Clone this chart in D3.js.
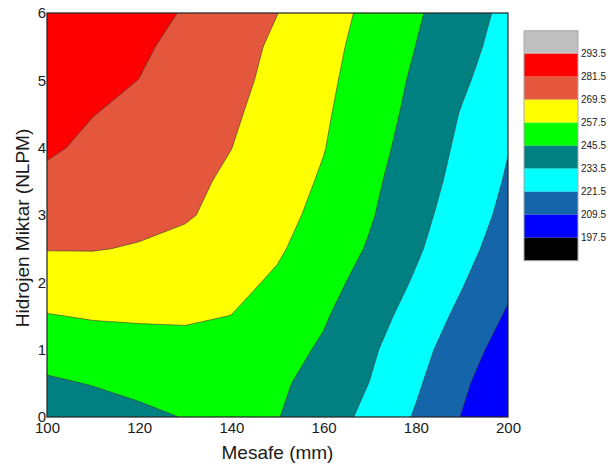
<!DOCTYPE html>
<html>
<head>
<meta charset="utf-8">
<script src="https://cdn.jsdelivr.net/npm/d3@7"></script>
<style>
  body { margin: 0; background: #fff; }
  text { font-family: Arial, "Liberation Sans", sans-serif; fill: #1a1a1a; }
</style>
</head>
<body>
<svg id="chart" width="611" height="468"></svg>
<script>
// grid columns (Mesafe, mm) and rows (Hidrojen Miktar, NLPM)
const mesafe = [100, 110, 120, 130, 140, 150, 160, 170, 180, 190, 200];
const hidrojen = [0, 0.5, 1, 1.5, 2, 2.5, 3, 3.5, 4, 4.5, 5, 5.5, 6];

// values, one row per hidrojen level (bottom to top)
const row00 = [238.3, 240.1, 243.1, 245.9, 247.3, 245.9, 238.8, 230.7, 220.4, 209.0, 198.7];
const row05 = [243.9, 246.0, 248.3, 249.9, 251.0, 247.3, 241.4, 233.3, 223.2, 211.7, 200.0];
const row10 = [250.4, 252.2, 253.4, 254.4, 254.3, 249.5, 244.1, 235.4, 225.7, 215.0, 204.0];
const row15 = [257.0, 258.3, 258.7, 258.7, 257.4, 252.0, 246.6, 238.3, 228.9, 218.7, 208.1];
const row20 = [263.5, 264.5, 264.0, 262.8, 260.1, 256.1, 249.3, 241.5, 232.2, 222.3, 211.8];
const row25 = [269.9, 269.9, 268.9, 266.1, 262.1, 258.7, 252.5, 244.4, 235.1, 225.5, 215.5];
const row30 = [274.4, 272.9, 271.8, 270.7, 265.7, 260.7, 254.6, 246.6, 237.2, 227.7, 218.4];
const row35 = [279.0, 276.1, 273.9, 271.9, 267.8, 262.3, 256.3, 248.1, 239.0, 229.7, 220.3];
const row40 = [283.1, 279.3, 276.2, 273.0, 269.6, 263.7, 257.9, 249.7, 240.8, 231.2, 221.9];
const row45 = [285.1, 281.7, 279.1, 274.4, 270.9, 265.4, 258.9, 251.1, 242.4, 232.8, 223.7];
const row50 = [286.9, 283.9, 281.4, 276.8, 272.3, 266.7, 260.0, 252.2, 243.8, 235.2, 226.7];
const row55 = [288.5, 285.7, 282.9, 278.9, 273.5, 267.7, 261.0, 253.5, 245.4, 237.1, 229.1];
const row60 = [289.9, 287.5, 284.4, 280.9, 275.3, 269.6, 262.3, 254.9, 246.9, 238.8, 230.6];

const levels = [197.5, 209.5, 221.5, 233.5, 245.5, 257.5, 269.5, 281.5, 293.5];
// colour below the first level, then one per level
const colors = ["#000000", "#0000ff", "#1565aa", "#00ffff", "#008080",
                "#00ff00", "#ffff00", "#e4573c", "#ff0000", "#c0c0c0"];

const xTicks = [100, 120, 140, 160, 180, 200];
const yTicks = [0, 1, 2, 3, 4, 5, 6];

const svg = d3.select("#chart");
const plotL = 47, plotR = 508, plotT = 13, plotB = 417;

const x = d3.scaleLinear().domain([100, 200]).range([plotL, plotR]);
const y = d3.scaleLinear().domain([0, 6]).range([plotB, plotT]);

// contour grid coords put sample i at i + 0.5
const nx = mesafe.length, ny = hidrojen.length;
const gx = d3.scaleLinear().domain([0.5, nx - 0.5]).range([mesafe[0], mesafe[nx - 1]]);
const gy = d3.scaleLinear().domain([0.5, ny - 0.5]).range([hidrojen[0], hidrojen[ny - 1]]);

const grid = [row00, row05, row10, row15, row20, row25, row30, row35, row40, row45, row50, row55, row60].flat();

const contours = d3.contours()
  .size([nx, ny])
  .thresholds(levels)(grid);

const path = d3.geoPath(d3.geoTransform({
  point: function(px, py) { this.stream.point(x(gx(px)), y(gy(py))); }
}));

svg.append("clipPath").attr("id", "clip")
  .append("rect")
  .attr("x", plotL).attr("y", plotT)
  .attr("width", plotR - plotL).attr("height", plotB - plotT);

const plot = svg.append("g").attr("clip-path", "url(#clip)");

plot.append("rect")
  .attr("x", plotL).attr("y", plotT)
  .attr("width", plotR - plotL).attr("height", plotB - plotT)
  .attr("fill", colors[0]);

plot.selectAll("path.band")
  .data(contours)
  .enter()
  .append("path")
  .attr("class", "band")
  .attr("d", path)
  .attr("fill", (d, i) => colors[i + 1])
  .attr("stroke", "#3a3a3a")
  .attr("stroke-width", 0.6)
  .attr("stroke-linejoin", "round");

// frame
svg.append("rect")
  .attr("x", plotL).attr("y", plotT)
  .attr("width", plotR - plotL).attr("height", plotB - plotT)
  .attr("fill", "none")
  .attr("stroke", "#222")
  .attr("stroke-width", 1.2);

// axes: labels only
const xAxis = svg.append("g")
  .attr("transform", `translate(0,${plotB})`)
  .call(d3.axisBottom(x).tickValues(xTicks).tickSize(0).tickPadding(5));
const yAxis = svg.append("g")
  .attr("transform", `translate(${plotL},0)`)
  .call(d3.axisLeft(y).tickValues(yTicks).tickFormat(d3.format("d")).tickSize(0).tickPadding(1));

[xAxis, yAxis].forEach(a => {
  a.select(".domain").remove();
  a.selectAll("text")
    .style("font-size", "15px")
    .style("font-family", "Arial, 'Liberation Sans', sans-serif")
    .attr("fill", "#1a1a1a");
});

svg.append("text")
  .attr("x", (plotL + plotR) / 2)
  .attr("y", 459)
  .attr("text-anchor", "middle")
  .style("font-size", "19px")
  .text("Mesafe (mm)");

svg.append("text")
  .attr("transform", "rotate(-90)")
  .attr("x", -228)
  .attr("y", 29)
  .attr("text-anchor", "middle")
  .style("font-size", "19px")
  .text("Hidrojen Miktar (NLPM)");

// legend
const legTop = 30.7, legH = 23, legX = 524, legW = 54;
const legend = svg.append("g");
const legendColors = colors.slice().reverse();

legend.selectAll("rect.key")
  .data(legendColors)
  .enter()
  .append("rect")
  .attr("class", "key")
  .attr("x", legX)
  .attr("y", (d, i) => legTop + i * legH)
  .attr("width", legW)
  .attr("height", legH)
  .attr("fill", d => d);

legend.append("rect")
  .attr("x", legX).attr("y", legTop)
  .attr("width", legW).attr("height", legH * legendColors.length)
  .attr("fill", "none")
  .attr("stroke", "#aaa")
  .attr("stroke-width", 1);

legend.selectAll("text")
  .data(levels.slice().reverse())
  .enter()
  .append("text")
  .attr("x", legX + legW + 3)
  .attr("y", (d, i) => legTop + (i + 1) * legH)
  .attr("dy", "0.35em")
  .style("font-size", "10px")
  .text(d => d.toFixed(1));
</script>
</body>
</html>
